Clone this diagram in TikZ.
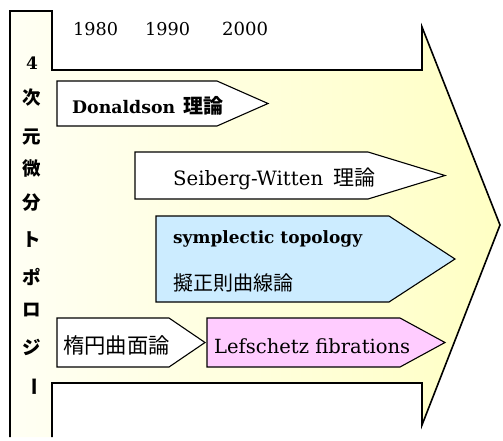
\documentclass[tikz,border=0pt]{standalone}
\usepackage{fontspec}
\setmainfont{DejaVu Serif}
\newfontfamily\jp{Noto Sans CJK JP}
\newcommand{\fitw}[2]{\resizebox{#1}{!}{#2}}
\definecolor{boxblue}{RGB}{204,236,255}
\definecolor{boxpink}{RGB}{255,204,255}
\definecolor{ylight}{RGB}{255,255,244}
\definecolor{ydark}{RGB}{255,255,196}
\begin{document}
\begin{tikzpicture}[x=1pt,y=-1pt,
  bigline/.style={line width=1.6pt, line join=miter},
  pbox/.style={draw=black, line width=1.1pt, line join=miter},
  lbl/.style={anchor=base west, inner sep=0pt, font=\fontsize{16}{20}\selectfont},
  jlbl/.style={anchor=west, inner sep=0pt, font=\jp\fontsize{20}{24}\selectfont},
  col/.style={inner sep=0pt, font=\jp\bfseries\fontsize{18.5}{22}\selectfont}]
\useasboundingbox (0,0) rectangle (503,440);
% big arrow
\shade[left color=ylight, right color=ydark]
  (10,437) -- (10,11) -- (52,11) -- (52,70) -- (422,70) -- (422,27) -- (500,225)
  -- (422,425) -- (422,383) -- (52,383) -- (52,437) -- cycle;
\draw[bigline] (10,437) -- (10,11) -- (52,11) -- (52,70) -- (422,70) -- (422,27) -- (500,225)
  -- (422,425) -- (422,383) -- (52,383) -- (52,437);
% years
\node[lbl] (y1980) at (73,35) {\fitw{45pt}{1980}};
\node[lbl] (y1990) at (145,35) {\fitw{45pt}{1990}};
\node[lbl] (y2000) at (222,35) {\fitw{46pt}{2000}};
% left column
\node[col] (c0) at (32,63) {\fontspec{DejaVu Serif}\bfseries\fontsize{17}{20}\selectfont 4};
\node[col] (c1) at (32,98) {次};
\node[col] (c2) at (32,137) {元};
\node[col] (c3) at (32,168) {微};
\node[col] (c4) at (32,203) {分};
\node[col] (c5) at (32,240) {ト};
\node[col] (c6) at (32,277) {ポ};
\node[col] (c7) at (32,310) {ロ};
\node[col] (c8) at (32,347) {ジ};
\node[col, rotate=-90] (c9) at (32,387) {ー};
% boxes
\draw[pbox, fill=white] (57,81) -- (217,81) -- (268,103.5) -- (217,126) -- (57,126) -- cycle;
\draw[pbox, fill=white] (135,152) -- (368,152) -- (445,175.5) -- (368,199) -- (135,199) -- cycle;
\draw[pbox, fill=boxblue] (156,216) -- (389,216) -- (455,259) -- (389,302) -- (156,302) -- cycle;
\draw[pbox, fill=white] (57,318) -- (169,318) -- (205,342.5) -- (169,367) -- (57,367) -- cycle;
\draw[pbox, fill=boxpink] (207,318) -- (400,318) -- (445,342.5) -- (400,367) -- (207,367) -- cycle;
% labels
\node[lbl, font=\fontsize{16}{20}\selectfont\bfseries] (don) at (72,113)
  {\fitw{103pt}{Donaldson}\hspace{8pt}{\jp\fontsize{20}{24}\selectfont 理論}};
\node[lbl] (sw) at (173,185)
  {\fitw{150pt}{Seiberg-Witten}\hspace{10pt}{\jp\fontsize{21}{24}\selectfont 理論}};
\node[lbl, font=\fontsize{16}{20}\selectfont\bfseries] (sym) at (173,243) {\fitw{189pt}{symplectic topology}};
\node[jlbl] (pj) at (173,283) {擬正則曲線論};
\node[jlbl, font=\jp\fontsize{21.3}{24}\selectfont] (ell) at (63,345) {楕円曲面論};
\node[lbl] (lef) at (214,353) {\fitw{196pt}{Lefschetz fibrations}};
\end{tikzpicture}
\end{document}
